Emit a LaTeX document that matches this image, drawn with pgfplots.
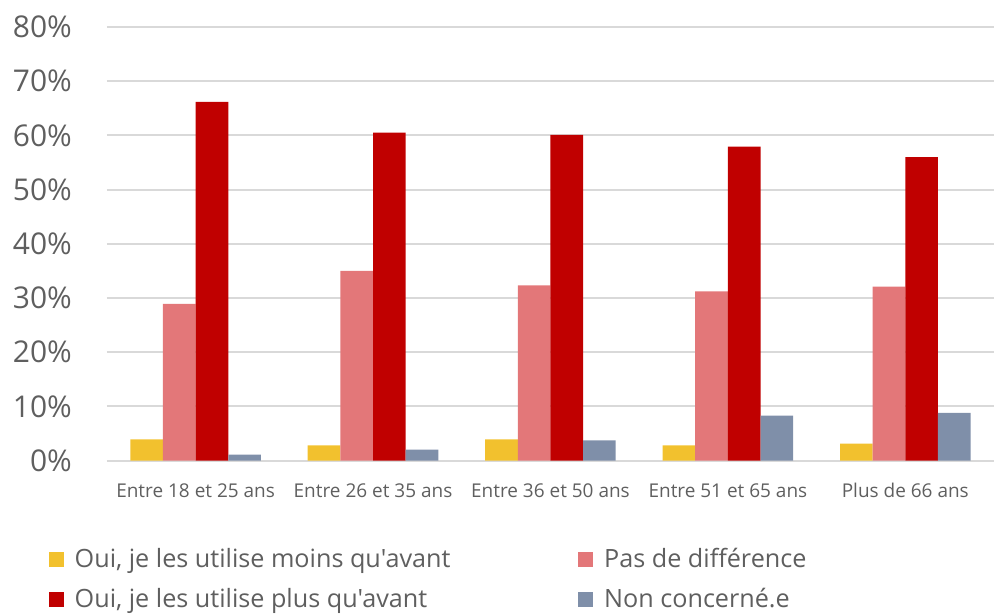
\documentclass[border=0pt]{standalone}
\usepackage{fontspec}
\setmainfont{Open Sans}[Ligatures=TeXOff]
\usepackage{pgfplots}
\pgfplotsset{compat=1.18}
\definecolor{cyel}{HTML}{F2C12E}
\definecolor{cpink}{HTML}{E37779}
\definecolor{cred}{HTML}{C00000}
\definecolor{cgray}{HTML}{7F8FA9}
\definecolor{ctxt}{HTML}{5F5F5F}
\definecolor{cgrid}{HTML}{D9D9D9}
\begin{document}
\begin{tikzpicture}
  \begin{axis}[
    scale only axis,
    width=444pt, height=217pt,
    ybar=0pt, bar width=0.184,
    xmin=-0.5, xmax=4.5,
    ymin=0, ymax=80,
    xtick={0,1,2,3,4},
    xticklabels={Entre 18 et 25 ans, Entre 26 et 35 ans, Entre 36 et 50 ans, Entre 51 et 65 ans, Plus de 66 ans},
    ytick={0,10,...,80},
    yticklabel={\pgfmathprintnumber{\tick}\%},
    /pgf/number format/assume math mode=true,
    major tick length=0pt,
    ymajorgrids, grid style={cgrid, line width=1pt},
    axis x line*=bottom, axis y line*=left,
    x axis line style={draw=cgrid, line width=1pt, -},
    y axis line style={draw=none},
    yticklabel style={font=\fontsize{15}{18}\selectfont, text=ctxt, anchor=east, xshift=-14pt},
    xticklabel style={font=\fontsize{9.5}{12}\selectfont, text=ctxt, yshift=-8pt},
    legend cell align=left,
    legend style={draw=none, font=\fontsize{12.6}{14}\selectfont, text=ctxt, inner sep=0pt,
      at={(-0.066,-0.192)}, anchor=north west, legend columns=2, row sep=5pt},
    legend image code/.code={\fill[#1] (0pt,-3.8pt) rectangle (7.6pt,3.8pt);
      \path (11pt,0pt);},
  ]
    \addplot[draw=none, fill=cyel] coordinates {(0,3.9) (1,2.8) (2,3.9) (3,2.8) (4,3.1)};
    \addplot[draw=none, fill=cpink] coordinates {(0,28.9) (1,35.0) (2,32.3) (3,31.2) (4,32.1)};
    \addplot[draw=none, fill=cred] coordinates {(0,66.2) (1,60.5) (2,60.1) (3,57.9) (4,56.0)};
    \addplot[draw=none, fill=cgray] coordinates {(0,1.1) (1,2.0) (2,3.7) (3,8.3) (4,8.8)};
    \legend{\makebox[250pt][l]{Oui, je les utilise moins qu'avant},Pas de différence,\makebox[250pt][l]{Oui, je les utilise plus qu'avant},Non concerné.e}
  \end{axis}
  % fix the page to the reference frame
  \path (current axis.north west) ++(-53.5pt,13.5pt);
  \path (current axis.south west) ++(-53.5pt,-75.5pt);
\end{tikzpicture}
\end{document}
